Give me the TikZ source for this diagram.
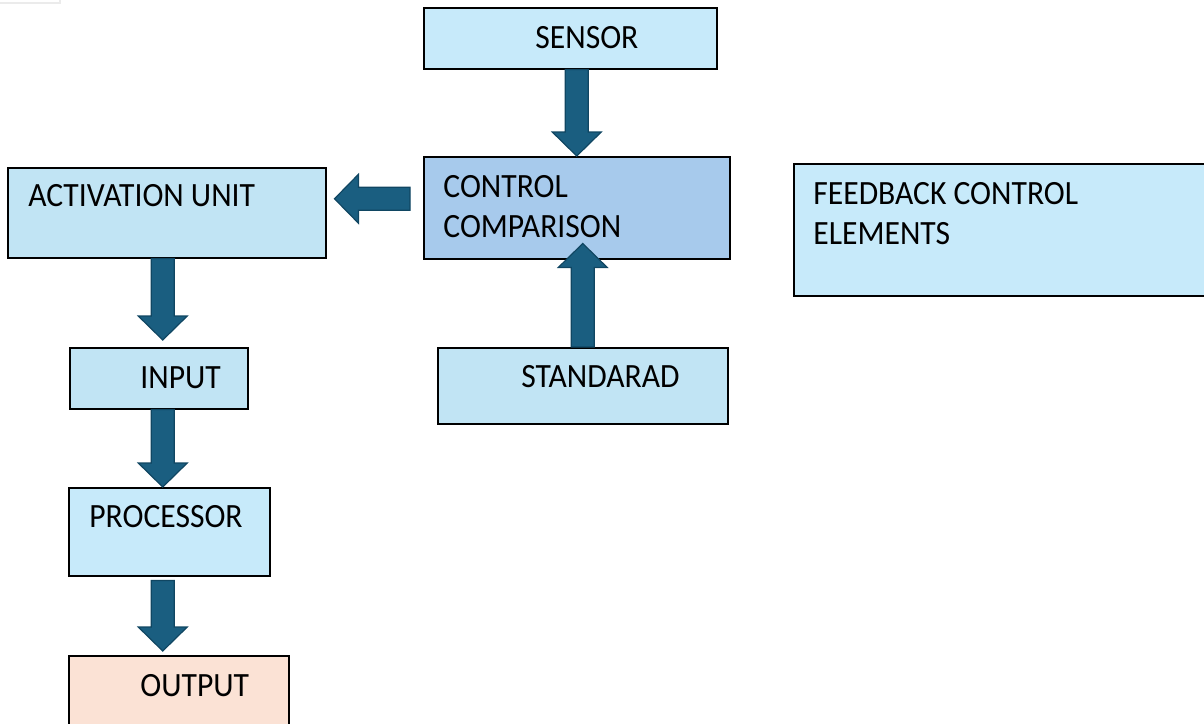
\documentclass[tikz,border=0pt]{standalone}
\usepackage{fontspec}
\setmainfont[FakeStretch=0.93]{Carlito}
\usetikzlibrary{calc}

\definecolor{paleblue}{RGB}{199,234,250}
\definecolor{greyblue}{RGB}{193,228,244}
\definecolor{midblue}{RGB}{167,202,236}
\definecolor{peach}{RGB}{251,226,213}
\definecolor{arrowfill}{RGB}{26,94,128}
\definecolor{arrowline}{RGB}{16,70,98}

\tikzset{
    box/.style={draw=black, line width=0.75pt, inner sep=0pt, anchor=north west},
    lbl/.style={inner sep=0pt, anchor=base west},
    lbltwo/.style={inner sep=0pt, anchor=north west, align=left},
    fatarrow/.style={fill=arrowfill, draw=arrowline, line width=0.6pt, line join=miter},
}

\newcommand{\blockarrow}[2]{%
    \coordinate (tmp-h) at ($(#2)!12pt!(#1)$);
    \draw[fatarrow] ($(#1)!5.75pt!90:(#2)$) -- ($(tmp-h)!5.75pt!90:(#2)$)
        -- ($(tmp-h)!12.25pt!90:(#2)$) -- (#2) -- ($(tmp-h)!12.25pt!-90:(#2)$)
        -- ($(tmp-h)!5.75pt!-90:(#2)$) -- ($(#1)!5.75pt!-90:(#2)$) -- cycle;}

\begin{document}
\begin{tikzpicture}[x=0.5pt, y=-0.5pt, font=\fontsize{17}{20}\selectfont]
        \useasboundingbox (0,0) rectangle (1204,723);
        \draw[black!8, line width=1pt] (0,2.5) -- (60,2.5) -- (60,0);

        \node[box, fill=paleblue, minimum width=146.5pt, minimum height=30.5pt] (sensor) at (423,7)   {};
        \node[box, fill=midblue,  minimum width=153pt,   minimum height=51pt]   (ctrl)   at (423,156) {};
        \node[box, fill=greyblue, minimum width=159pt,   minimum height=45pt]   (act)    at (7,167)   {};
        \node[box, fill=paleblue, minimum width=211pt,   minimum height=66pt]   (fb)     at (793,163) {};
        \node[box, fill=greyblue, minimum width=89pt,    minimum height=30.5pt] (inp)    at (69,347)  {};
        \node[box, fill=greyblue, minimum width=145pt,   minimum height=38pt]   (std)    at (437,347) {};
        \node[box, fill=paleblue, minimum width=100.5pt, minimum height=44pt]   (proc)   at (68,487)  {};
        \node[box, fill=peach,    minimum width=110pt,   minimum height=42.5pt] (out)    at (68,655)  {};

        \node[lbl]    (sensor-t) at (535,48)  {SENSOR};
        \node[lbl]    (act-t)    at (28,206)  {ACTIVATION UNIT};
        \node[lbl]    (inp-t)    at (140,388) {INPUT};
        \node[lbl]    (std-t)    at (521,387) {STANDARAD};
        \node[lbl]    (proc-t)   at (89,527)  {PROCESSOR};
        \node[lbl]    (out-t)    at (140,696) {OUTPUT};
        \node[lbltwo] (ctrl-t)   at (443,175) {CONTROL\\COMPARISON};
        \node[lbltwo] (fb-t)     at (813,182) {FEEDBACK CONTROL\\ELEMENTS};

        \coordinate (ca)   at ($(ctrl.west)+(-13,-9)$);
        \coordinate (lane) at ($(inp.north)+(4,0)$);

        \blockarrow{sensor.south -| ctrl.north}{ctrl.north}
        \blockarrow{ca}{$(ca -| act.east)+(8,0)$}
        \blockarrow{lane |- act.south}{$(lane)+(0,-7)$}
        \blockarrow{lane |- inp.south}{lane |- proc.north}
        \blockarrow{$(lane |- proc.south)+(0,4)$}{$(lane |- out.north)+(0,-4)$}
        \blockarrow{std.north}{$(std.north |- ctrl.south)+(0,-16)$}
\end{tikzpicture}
\end{document}
